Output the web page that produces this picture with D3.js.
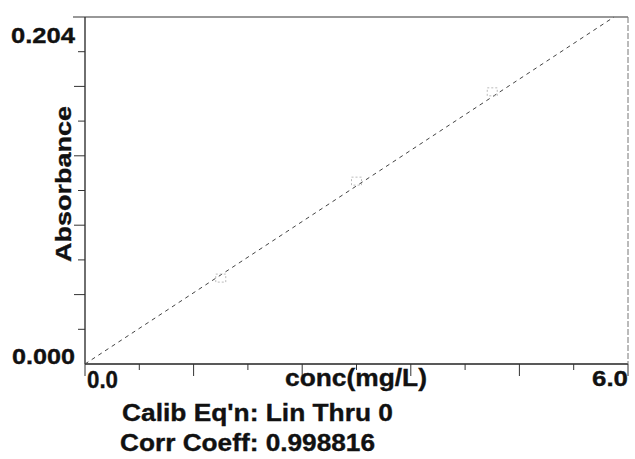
<!DOCTYPE html>
<html>
<head>
<meta charset="utf-8">
<script src="https://d3js.org/d3.v7.min.js"></script>
<style>
    body { margin: 0; background: white; }
    text {
        font-family: "Liberation Sans", Arial, sans-serif;
        font-weight: bold;
        fill: #111;
        stroke: #111;
        stroke-width: 0.35px;
    }
</style>
</head>
<body>
<script>
    // calibration standards
    var stdConc = [1.5, 3.0, 4.5];
    var stdAbs = [0.0505, 0.1075, 0.160];
    var calibSlope = 0.0349;   // Lin Thru 0
    var xDomain = [0.0, 6.0];
    var yDomain = [0.000, 0.204];
    var xTickLabels = ["0.0", "6.0"];
    var yTickLabels = ["0.000", "0.204"];
    var xTitle = "conc(mg/L)";
    var yTitle = "Absorbance";
    var infoLines = ["Calib Eq'n: Lin Thru 0", "Corr Coeff: 0.998816"];

    var width = 635, height = 459;
    var margin = {left: 85, top: 17, right: 7, bottom: 95};

    var svg = d3.select("body").append("svg")
        .attr("width", width).attr("height", height);

    var x = d3.scaleLinear().domain(xDomain).range([margin.left, width - margin.right]);
    var y = d3.scaleLinear().domain(yDomain).range([height - margin.bottom, margin.top]);

    // frame
    svg.append("line").attr("x1", x(0)).attr("x2", x(6)).attr("y1", y(0)).attr("y2", y(0))
        .attr("stroke", "#222").attr("stroke-width", 1.3);
    svg.append("line").attr("x1", x(0)).attr("x2", x(0)).attr("y1", y(0.204)).attr("y2", y(0))
        .attr("stroke", "#222").attr("stroke-width", 1.3);
    svg.append("line").attr("x1", x(0) - 12).attr("x2", x(6)).attr("y1", y(0.204)).attr("y2", y(0.204))
        .attr("stroke", "#333").attr("stroke-width", 1.2);
    svg.append("line").attr("x1", x(6)).attr("x2", x(6)).attr("y1", y(0.204)).attr("y2", y(0))
        .attr("stroke", "#777").attr("stroke-width", 1).attr("stroke-dasharray", "6,2");

    // x ticks (down, alternating)
    var xTicks = d3.range(0, 11).map(function(i) { return i * 0.6; });
    svg.append("g").selectAll("line").data(xTicks).enter().append("line")
        .attr("x1", function(d) { return x(d); })
        .attr("x2", function(d) { return x(d); })
        .attr("y1", y(0))
        .attr("y2", function(d, i) { return y(0) + (i % 2 == 0 ? 12 : 6); })
        .attr("stroke", "#333").attr("stroke-width", 1);

    // y ticks (left, alternating)
    var yTicks = d3.range(1, 10).map(function(i) { return i * 0.0204; });
    svg.append("g").selectAll("line").data(yTicks).enter().append("line")
        .attr("x1", function(d, i) { return x(0) - (i % 2 == 1 ? 11 : 7); })
        .attr("x2", x(0))
        .attr("y1", function(d) { return y(d); })
        .attr("y2", function(d) { return y(d); })
        .attr("stroke", "#333").attr("stroke-width", 1);

    // calibration line through origin
    var xEnd = Math.min(6, 0.204 / calibSlope);
    svg.append("line")
        .attr("x1", x(0)).attr("y1", y(0))
        .attr("x2", x(xEnd)).attr("y2", y(calibSlope * xEnd))
        .attr("stroke", "#444").attr("stroke-width", 1)
        .attr("stroke-dasharray", "4,4");

    // standards
    svg.append("g").selectAll("rect").data(stdConc).enter().append("rect")
        .attr("x", function(d) { return x(d) - 5; })
        .attr("y", function(d, i) { return y(stdAbs[i]) - 4; })
        .attr("width", 10).attr("height", 8)
        .attr("fill", "none").attr("stroke", "#aaa").attr("stroke-width", 0.8)
        .attr("stroke-dasharray", "2,2");

    // tick labels
    svg.append("text").text(yTickLabels[1]).attr("x", 75).attr("y", y(0.204) + 26)
        .attr("text-anchor", "end").style("font-size", "22px")
        .attr("textLength", 64).attr("lengthAdjust", "spacingAndGlyphs");
    svg.append("text").text(yTickLabels[0]).attr("x", 75).attr("y", y(0))
        .attr("text-anchor", "end").style("font-size", "22px")
        .attr("textLength", 63).attr("lengthAdjust", "spacingAndGlyphs");
    svg.append("text").text(xTickLabels[0]).attr("x", x(0) + 2).attr("y", y(0) + 24)
        .style("font-size", "23px")
        .attr("textLength", 31).attr("lengthAdjust", "spacingAndGlyphs");
    svg.append("text").text(xTickLabels[1]).attr("x", x(6)).attr("y", y(0) + 22)
        .attr("text-anchor", "end").style("font-size", "22px")
        .attr("textLength", 36).attr("lengthAdjust", "spacingAndGlyphs");

    // titles
    svg.append("text").text(xTitle).attr("x", 285).attr("y", y(0) + 22)
        .style("font-size", "23px")
        .attr("textLength", 142).attr("lengthAdjust", "spacingAndGlyphs");
    svg.append("text").text(yTitle)
        .attr("transform", "translate(71,184) rotate(-90)")
        .attr("text-anchor", "middle").style("font-size", "22px")
        .attr("textLength", 156).attr("lengthAdjust", "spacingAndGlyphs");

    // calibration info
    var infoLen = [271, 255];
    svg.append("g").selectAll("text").data(infoLines).enter().append("text")
        .text(function(d) { return d; })
        .attr("x", function(d, i) { return i == 0 ? 122 : 120; })
        .attr("y", function(d, i) { return 421 + i * 30; })
        .style("font-size", "23px")
        .attr("textLength", function(d, i) { return infoLen[i]; })
        .attr("lengthAdjust", "spacingAndGlyphs");
</script>
</body>
</html>
